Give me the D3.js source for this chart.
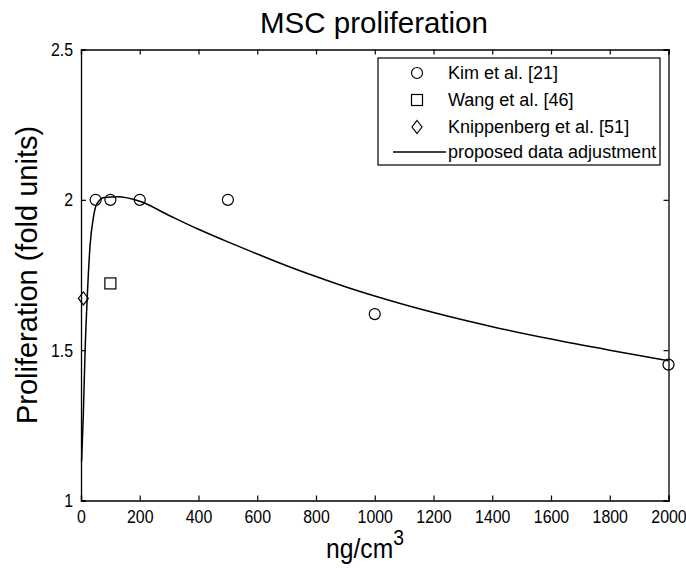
<!DOCTYPE html>
<html>
<head>
<meta charset="utf-8">
<title>MSC proliferation</title>
<script src="https://cdn.jsdelivr.net/npm/d3@7"></script>
<style>
  body { margin: 0; background: #fff; }
  text { font-family: "Liberation Sans", Arial, sans-serif; fill: #000; }
</style>
</head>
<body>
<svg width="686" height="569"></svg>
<script>
// data
var kimX = [50, 100, 200, 500, 1000, 2000];
var kimY = [2, 2, 2, 2, 1.62, 1.452];
var wangX = [100];
var wangY = [1.722];
var knipX = [8];
var knipY = [1.672];
// fitted curve ("proposed data adjustment")
var fitX = [2, 8, 14, 21, 31, 42, 53, 80, 125, 200, 300, 400, 500, 600, 700, 800, 900, 1000, 1200, 1400, 1600, 1800, 2000];
var fitY = [1.13, 1.29, 1.5, 1.67, 1.85, 1.94, 1.985, 2.008, 2.01, 1.995, 1.948, 1.902, 1.86, 1.82, 1.781, 1.745, 1.711, 1.68, 1.625, 1.578, 1.537, 1.5, 1.465];
var xTicks = [0, 200, 400, 600, 800, 1000, 1200, 1400, 1600, 1800, 2000];
var yTicks = [1, 1.5, 2, 2.5];
var legendLabels = ["Kim et al. [21]", "Wang et al. [46]", "Knippenberg et al. [51]", "proposed data adjustment"];

var svg = d3.select("svg");
var margin = {top: 49.5, left: 81, right: 686 - 668.5, bottom: 569 - 500.5};
var w = 686 - margin.left - margin.right;
var h = 569 - margin.top - margin.bottom;
var g = svg.append("g").attr("transform", "translate(" + margin.left + "," + margin.top + ")");

var x = d3.scaleLinear().domain([0, 2000]).range([0, w]);
var y = d3.scaleLinear().domain([1, 2.5]).range([h, 0]);

var sx = 0.86; // tick labels in the picture are condensed

// axes, ticks pointing inward, mirrored on top / right
var tl = 5;
var xAx = g.append("g").attr("transform", "translate(0," + h + ")")
  .call(d3.axisBottom(x).tickValues(xTicks).tickSize(-tl).tickPadding(9.5).tickFormat(d3.format("d")));
g.append("g").call(d3.axisTop(x).tickValues(xTicks).tickSize(-tl).tickFormat(""));
var yAx = g.append("g").call(d3.axisLeft(y).tickValues(yTicks).tickSize(-tl).tickPadding(8).tickFormat(function(d){ return d; }));
g.append("g").attr("transform", "translate(" + w + ",0)")
  .call(d3.axisRight(y).tickValues(yTicks).tickSize(-tl).tickFormat(""));
g.selectAll(".domain").attr("stroke", "#000").attr("stroke-width", 1.3);
g.selectAll(".tick line").attr("stroke", "#000").attr("stroke-width", 1.2);
g.selectAll(".tick text").style("font-size", "18.5px");
xAx.selectAll(".tick text").attr("transform", "scale(" + sx + ",1)");
yAx.selectAll(".tick text").attr("x", -8 / sx).attr("transform", "scale(" + sx + ",1)");

// curve
var fit = fitX.map(function(d, i){ return [d, fitY[i]]; });
g.append("path").datum(fit)
  .attr("fill", "none").attr("stroke", "#000").attr("stroke-width", 1.5)
  .attr("d", d3.line().x(function(d){ return x(d[0]); }).y(function(d){ return y(d[1]); }).curve(d3.curveMonotoneX));

// markers
function circleM(sel) { sel.append("circle").attr("r", 5.5); }
function squareM(sel) { sel.append("rect").attr("x", -5.5).attr("y", -5.5).attr("width", 11).attr("height", 11); }
function diamondM(sel) { sel.append("path").attr("d", "M0,-6.5L5,0L0,6.5L-5,0Z"); }

function drawSeries(xs, ys, marker) {
  xs.forEach(function(d, i){
    var m = g.append("g").attr("transform", "translate(" + x(d) + "," + y(ys[i]) + ")")
      .attr("fill", "none").attr("stroke", "#000").attr("stroke-width", 1.2);
    marker(m);
  });
}
drawSeries(kimX, kimY, circleM);
drawSeries(wangX, wangY, squareM);
drawSeries(knipX, knipY, diamondM);

// legend
var lg = svg.append("g").attr("transform", "translate(378,58)");
lg.append("rect").attr("width", 282).attr("height", 107).attr("fill", "#fff").attr("stroke", "#000").attr("stroke-width", 1.2);
var rows = [15, 42, 69, 94];
var markers = [circleM, squareM, diamondM];
legendLabels.forEach(function(t, i){
  if (i < 3) {
    var m = lg.append("g").attr("transform", "translate(39," + rows[i] + ")")
      .attr("fill", "none").attr("stroke", "#000").attr("stroke-width", 1.2);
    markers[i](m);
  } else {
    lg.append("line").attr("x1", 15).attr("x2", 68).attr("y1", rows[i]).attr("y2", rows[i])
      .attr("stroke", "#000").attr("stroke-width", 1.3);
  }
  lg.append("text").attr("x", 70).attr("y", rows[i]).attr("dy", "0.35em")
    .style("font-size", "18px").text(t);
});

// titles
svg.append("text").attr("x", 374).attr("y", 33).attr("text-anchor", "middle")
  .style("font-size", "29.5px").text("MSC proliferation");
var xl = svg.append("text").attr("transform", "translate(365,558) scale(0.88,1)")
  .attr("text-anchor", "middle").style("font-size", "28px");
xl.append("tspan").text("ng/cm");
xl.append("tspan").attr("dy", -13).style("font-size", "22px").text("3");
svg.append("text").attr("transform", "translate(37,275) rotate(-90)").attr("text-anchor", "middle")
  .style("font-size", "29px").text("Proliferation (fold units)");
</script>
</body>
</html>
